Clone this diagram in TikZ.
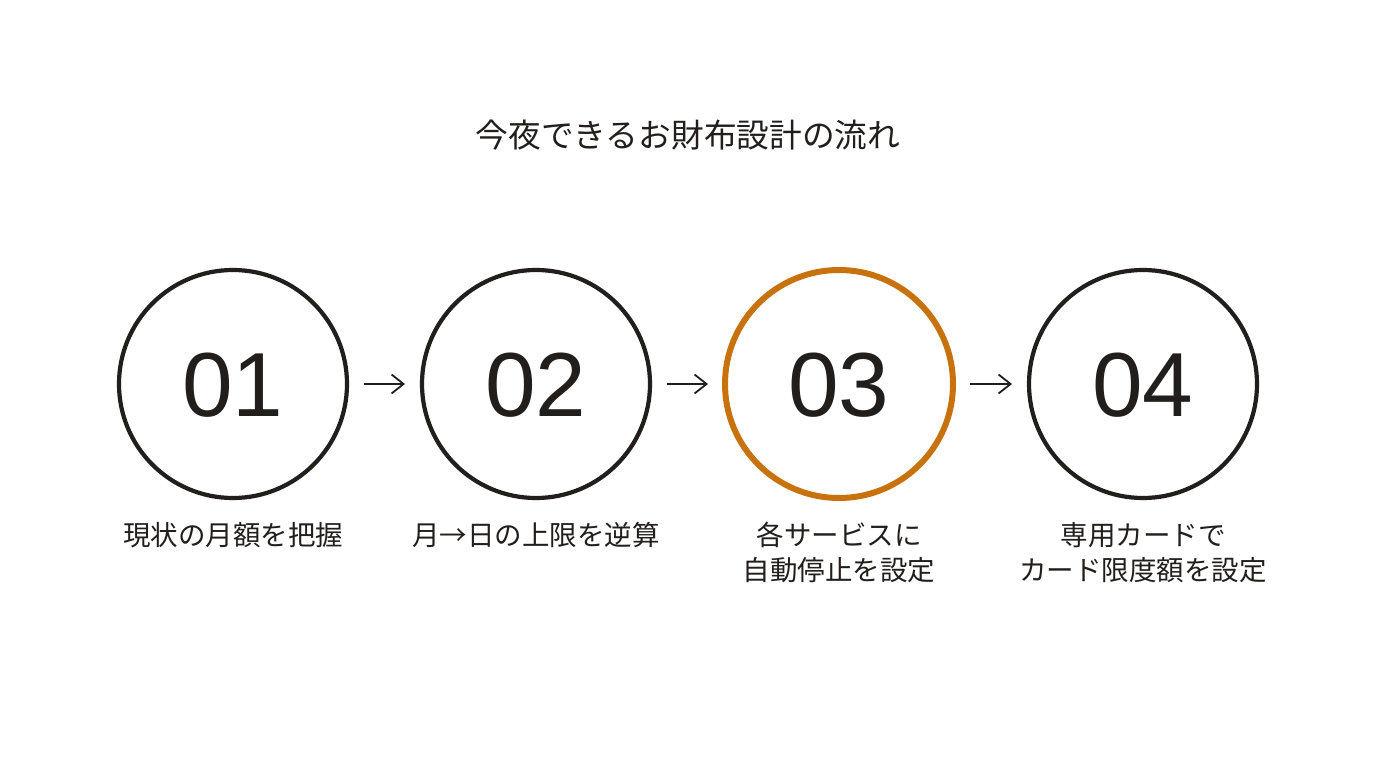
\documentclass[tikz,border=0pt]{standalone}
\usepackage{fontspec}
\newfontfamily\cjk{Noto Sans CJK JP}
\newfontfamily\digits{Liberation Sans}
\usetikzlibrary{arrows.meta}
\definecolor{ink}{HTML}{221E1B}
\definecolor{accent}{HTML}{C8720E}
\tikzset{
  ring/.style={circle, draw=ink, line width=4.2pt, minimum size=228pt, inner sep=0pt, outer sep=0pt},
  hot/.style={draw=accent, line width=6pt},
  num/.style={font=\digits\fontsize{91}{91}\selectfont, text=ink, inner sep=0pt},
  lbl/.style={font=\cjk\fontsize{27.5}{30}\selectfont, text=ink, inner sep=0pt},
  ttl/.style={font=\cjk\fontsize{32.7}{36}\selectfont, text=ink, inner sep=0pt},
  arr/.style={draw=ink, line width=1.8pt, -{Straight Barb[length=12pt,width=19pt,line width=1.8pt]}, shorten <=17pt, shorten >=17pt}
}
\begin{document}
\begin{tikzpicture}[x=1pt,y=-1pt]
\fill[white] (0,0) rectangle (1376,768);
\useasboundingbox (0,0) rectangle (1376,768);
\node[ttl] (title) at (688,135) {今夜できるお財布設計の流れ};
\node[ring] (c1) at (233,384) {};
\node[ring] (c2) at (536,384) {};
\node[ring,hot] (c3) at (839,384) {};
\node[ring] (c4) at (1143,384) {};
\node[num] (n1) at (233,385) {01};
\node[num] (n2) at (536,385) {02};
\node[num] (n3) at (839,385) {03};
\node[num] (n4) at (1143,385) {04};
\draw[arr] (c1) -- (c2);
\draw[arr] (c2) -- (c3);
\draw[arr] (c3) -- (c4);
\node[lbl] (l1) at (233,535) {現状の月額を把握};
\node[lbl] (l2) at (536,535) {月→日の上限を逆算};
\node[lbl] (l3a) at (839,535) {各サービスに};
\node[lbl] (l3b) at (839,570) {自動停止を設定};
\node[lbl] (l4a) at (1143,535) {専用カードで};
\node[lbl] (l4b) at (1143,570) {カード限度額を設定};
\end{tikzpicture}
\end{document}
